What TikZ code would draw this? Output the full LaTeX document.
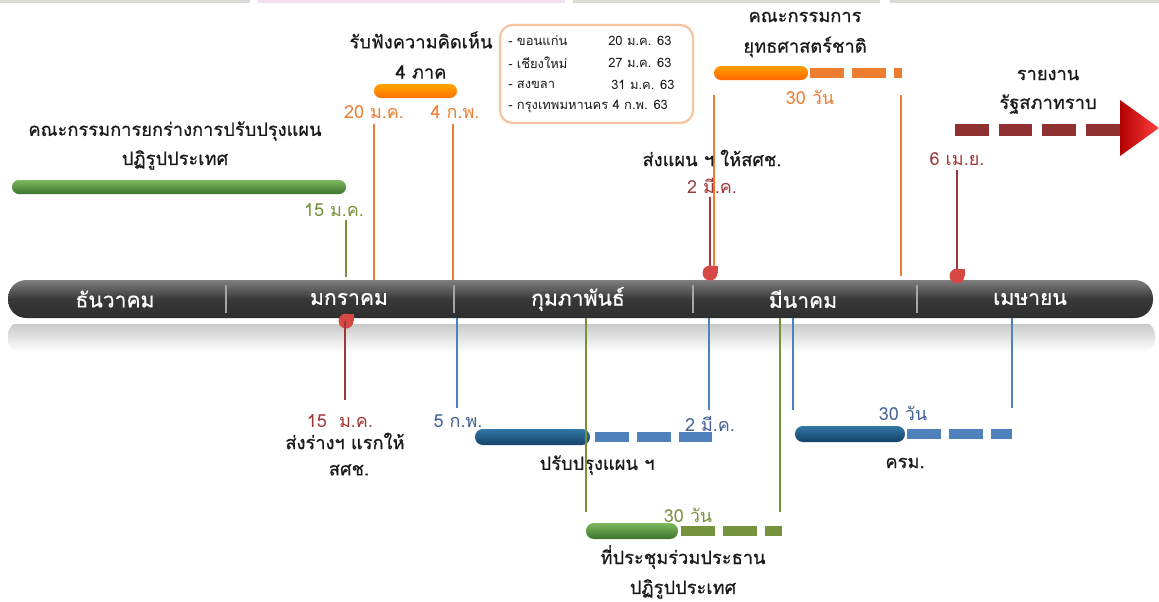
\documentclass[tikz,border=0pt]{standalone}
\usepackage{fontspec}
\setmainfont[Script=Thai]{Loma}
\newfontfamily\thaiheavy[Script=Thai, FakeBold=0.7]{Loma}
\usepackage{xcolor}
\usepackage{tikz}
\usetikzlibrary{shapes,arrows,positioning,calc}
\definecolor{tlOrange}{RGB}{237,125,49}
\definecolor{tlGreen}{RGB}{118,146,60}
\definecolor{tlBlue}{RGB}{79,129,189}
\definecolor{tlBlueTxt}{RGB}{68,98,150}
\definecolor{tlRed}{RGB}{160,55,55}
\definecolor{tlMark}{RGB}{214,72,68}
\definecolor{tlBox}{RGB}{248,196,158}
\definecolor{tlInk}{RGB}{25,25,25}
\definecolor{blueTop}{RGB}{50,120,165}
\definecolor{blueMid}{RGB}{30,95,140}
\definecolor{blueBot}{RGB}{20,65,105}
\definecolor{greenTop}{RGB}{125,185,95}
\definecolor{greenMid}{RGB}{90,150,70}
\definecolor{greenBot}{RGB}{60,115,45}
\tikzstyle{label} = [font=\thaiheavy\fontsize{13}{15}\selectfont, text=tlInk, inner sep=0pt]
\tikzstyle{month} = [font=\thaiheavy\fontsize{15}{17}\selectfont, text=white, inner sep=0pt]
\tikzstyle{date} = [font=\fontsize{12.8}{14}\selectfont, inner sep=0pt]
\tikzstyle{small} = [font=\fontsize{9.2}{11}\selectfont, text=tlInk, inner sep=0pt, anchor=west]
\tikzstyle{vline} = [line width=0.9pt]
\tikzstyle{dashbar} = [line width=7.5pt, dash pattern=on 24pt off 6pt]
\tikzstyle{bluebar} = [top color=blueTop, middle color=blueMid, bottom color=blueBot, rounded corners=5.6pt]
\tikzstyle{greenbar} = [top color=greenTop, middle color=greenMid, bottom color=greenBot, rounded corners=5.6pt]
\newcommand{\dropmark}[2]{%
  \fill[tlMark] (#1,#2) circle (7.5);
  \fill[tlMark] (#1,#2) rectangle ++(7.5,-7.5);
}

\begin{document}
\begin{tikzpicture}[x=0.025cm, y=-0.025cm]
    \useasboundingbox (0,0) rectangle (1159,601);
    % strips at the top edge
    \fill[black!15!yellow!10!gray!35] (0,0) rectangle (250,2.5);
    \fill[violet!12] (258,0) rectangle (565,2.5);
    \fill[black!15!yellow!10!gray!35] (573,0) rectangle (880,2.5);
    \fill[black!15!yellow!10!gray!35] (890,0) rectangle (1159,2.5);
    % month bar and its reflection
    \shade[top color=gray!45, bottom color=white, rounded corners=9pt] (8,322) rectangle (1155,352);
    \fill[white] (0,318) rectangle (1159,324);
    \shade[top color=black!50, bottom color=black!82, middle color=black!78, rounded corners=13pt] (8,280) rectangle (1153,318);
    \foreach \xd in {226,454,693,917} \draw[gray!70, line width=0.8pt] (\xd,285) -- (\xd,313);
    \node[month] (dec) at (115,299) {ธันวาคม};
    \node[month] (jan) at (349,299) {มกราคม};
    \node[month] (feb) at (578,299) {กุมภาพันธ์};
    \node[month] (mar) at (803,299) {มีนาคม};
    \node[month] (apr) at (1030,299) {เมษายน};
    % drafting committee
    \shade[greenbar, rounded corners=4.9pt] (12,180) rectangle (346,194);
    \node[label] (draft1) at (175,131) {คณะกรรมการยกร่างการปรับปรุงแผน};
    \node[label] (draft2) at (175,160) {ปฏิรูปประเทศ};
    \node[date, text=tlGreen] (d15g) at (334,210) {15 ม.ค.};
    \coordinate (g15a) at (346,220);
    \coordinate (g15b) at (346,277);
    \draw[vline, tlGreen] (g15a) -- (g15b);
    % hearings
    \shade[top color=orange!70!yellow, bottom color=orange!90!red, rounded corners=4.9pt] (374,84) rectangle (457,98);
    \node[label] (hear1) at (421,40) {รับฟังความคิดเห็น};
    \node[label] (hear2) at (421,72) {4 ภาค};
    \node[date, text=tlOrange] (d20j) at (374,112) {20 ม.ค.};
    \node[date, text=tlOrange] (d4f) at (455,112) {4 ก.พ.};
    \coordinate (o20) at (374,280);
    \coordinate (o4) at (453,280);
    \draw[vline, tlOrange] (374,124) -- (o20);
    \draw[vline, tlOrange] (453,124) -- (o4);
    \draw[tlBox, line width=1.6pt, rounded corners=9pt] (500,25) rectangle (693,123);
    \node[small] (kk) at (508,41) {- ขอนแก่น};
    \node[small] (cm) at (508,63) {- เชียงใหม่};
    \node[small] (sk) at (508,85) {- สงขลา};
    \node[small] (bk) at (508,107) {- กรุงเทพมหานคร 4 ก.พ. 63};
    \node[small] (kkd) at (608,41) {20 ม.ค. 63};
    \node[small] (cmd) at (608,63) {27 ม.ค. 63};
    \node[small] (skd) at (611,85) {31 ม.ค. 63};
    % national strategy committee
    \shade[top color=orange!75!yellow, bottom color=orange!80!red, rounded corners=4.9pt] (714,66) rectangle (808,80);
    \draw[dashbar, tlOrange] (810,73) -- (902,73);
    \node[label] (nsc1) at (805,17) {คณะกรรมการ};
    \node[label] (nsc2) at (805,47) {ยุทธศาสตร์ชาติ};
    \node[date, text=tlOrange] (o30) at (810,97) {30 วัน};
    \coordinate (n1) at (714,95);
    \coordinate (n2) at (901,95);
    \draw[vline, tlOrange] (n1) -- (714,278);
    \draw[vline, tlOrange] (n2) -- (901,276);
    % send plan
    \node[label] (send) at (712,158) {ส่งแผน ฯ ให้สศช.};
    \node[date, text=tlRed] (d2m) at (712,186) {2 มี.ค.};
    \coordinate (r2) at (710,273);
    \draw[vline, tlRed] (710,197) -- (r2);
    \dropmark{710}{273}
    % parliament
    \node[label] (parl1) at (1048,75) {รายงาน};
    \node[label] (parl2) at (1048,104) {รัฐสภาทราบ};
    \draw[line width=8.5pt, dash pattern=on 24pt off 7pt, tlRed!90!black] (955,130) -- (1120,130);
    \shade[left color=red!70!black, right color=red!75!white] (1120,100) -- (1159,128) -- (1120,156) -- cycle;
    \node[date, text=tlRed] (d6a) at (957,159) {6 เม.ย.};
    \coordinate (r6) at (957,276);
    \draw[vline, tlRed] (957,170) -- (r6);
    \dropmark{957}{276}
    % first draft to NESDC
    \dropmark{346}{321}
    \coordinate (r15) at (345,321);
    \draw[vline, tlRed] (r15) -- (345,400);
    \node[date, text=tlRed] (d15r) at (340,421) {15~~ม.ค.};
    \node[label] (draft3) at (345,441) {ส่งร่างฯ แรกให้};
    \node[label] (draft4) at (349,470) {สศช.};
    % revise plan
    \shade[bluebar] (475,429) rectangle (590,445);
    \draw[dashbar, tlBlue] (595,437) -- (712,437);
    \node[date, text=tlBlueTxt] (d5f) at (458,421) {5 ก.พ.};
    \node[date, text=tlBlueTxt] (d2mb) at (710,424) {2 มี.ค.};
    \node[label] (rev) at (597,465) {ปรับปรุงแผน ฯ};
    \coordinate (b5) at (457,318);
    \coordinate (b2) at (709,318);
    \draw[vline, tlBlue] (b5) -- (457,408);
    \draw[vline, tlBlue] (b2) -- (709,410);
    % joint meeting
    \shade[greenbar] (586,523) rectangle (678,539);
    \draw[dashbar, tlGreen] (681,531) -- (782,531);
    \node[date, text=tlGreen] (g30) at (688,515) {30 วัน};
    \node[label] (joint1) at (683,557) {ที่ประชุมร่วมประธาน};
    \node[label] (joint2) at (683,589) {ปฏิรูปประเทศ};
    \coordinate (j1) at (586,318);
    \coordinate (j2) at (780,318);
    \draw[vline, tlGreen] (j1) -- (586,512);
    \draw[vline, tlGreen] (j2) -- (780,512);
    % cabinet
    \shade[bluebar] (795,426) rectangle (905,442);
    \draw[dashbar, tlBlue] (907,434) -- (1012,434);
    \node[date, text=tlBlueTxt] (b30) at (903,413) {30 วัน};
    \node[label] (cab) at (905,463) {ครม.};
    \coordinate (c1) at (793,318);
    \coordinate (c2) at (1012,318);
    \draw[vline, tlBlue] (c1) -- (793,410);
    \draw[vline, tlBlue] (c2) -- (1012,408);
\end{tikzpicture}
\end{document}
